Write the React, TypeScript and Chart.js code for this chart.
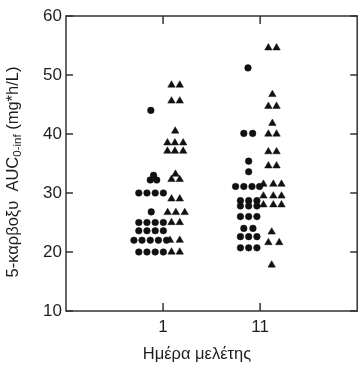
import React, { useEffect, useRef } from "react";
import { Chart, registerables } from "chart.js";

Chart.register(...registerables);

// Categories (study day) and their positions on the x axis
const DAY_LABELS = ["1", "11"];
const DAY_POS = [1, 2];
const Y_TICKS = [10, 20, 30, 40, 50, 60];

// Day 1 – circles (AUC values) and horizontal jitter offsets (axis units)
const day1CircleValues = [44, 33, 32.2, 32.2, 30, 30, 30, 30, 26.8, 25, 25, 25, 25, 23.6, 23.6, 23.6, 23.6, 22, 22, 22, 22, 22, 20, 20, 20, 20];
const day1CircleOffsets = [-0.126, -0.098, -0.132, -0.065, -0.25, -0.166, -0.081, 0.003, -0.122, -0.25, -0.166, -0.081, 0.003, -0.25, -0.166, -0.081, 0.003, -0.3, -0.217, -0.132, -0.048, 0.036, -0.25, -0.166, -0.081, 0.003];

// Day 1 – triangles
const day1TriValues = [48.3, 48.3, 45.6, 45.6, 40.5, 38.5, 38.5, 38.5, 37.1, 37.1, 37.1, 33.2, 32.3, 32.3, 29, 29, 26.7, 26.7, 26.7, 25, 25, 22, 22, 20, 20];
const day1TriOffsets = [0.087, 0.172, 0.087, 0.172, 0.125, 0.045, 0.122, 0.207, 0.045, 0.122, 0.207, 0.128, 0.087, 0.172, 0.087, 0.172, 0.047, 0.132, 0.223, 0.087, 0.172, 0.071, 0.172, 0.087, 0.172];

// Day 11 – circles
const day11CircleValues = [51.2, 40.1, 40.1, 35.4, 33.6, 31.1, 31.1, 31.1, 31.1, 28.7, 28.7, 28.7, 27.8, 27.8, 27.8, 26, 26, 26, 24, 24, 22.6, 22.6, 22.6, 20.7, 20.7, 20.7];
const day11CircleOffsets = [-0.125, -0.168, -0.077, -0.118, -0.118, -0.253, -0.168, -0.084, -0.006, -0.203, -0.118, -0.033, -0.203, -0.118, -0.033, -0.203, -0.118, -0.033, -0.168, -0.074, -0.203, -0.118, -0.033, -0.203, -0.118, -0.033];

// Day 11 – triangles
const day11TriValues = [54.6, 54.6, 46.7, 44.7, 44.7, 41.8, 40, 40, 37, 37, 34.6, 34.6, 31.5, 31.5, 31.5, 29.5, 29.5, 29.5, 28, 28, 28, 23.4, 21.6, 21.6, 17.8];
const day11TriOffsets = [0.085, 0.169, 0.126, 0.085, 0.169, 0.126, 0.085, 0.169, 0.085, 0.169, 0.085, 0.169, 0.034, 0.136, 0.22, 0.034, 0.136, 0.22, 0.034, 0.136, 0.22, 0.119, 0.085, 0.197, 0.119];

const Y_TITLE_MAIN = "5-καρβοξυ  AUC";
const Y_TITLE_SUB = "0-inf";
const Y_TITLE_TAIL = " (mg*h/L)";
const X_TITLE = "Ημέρα μελέτης";

const FONT = "'Liberation Sans', Arial, sans-serif";
const TEXT = "#1e1e1e";
const INK = "#111";

function pts(dayIndex: number, values: number[], offsets: number[]) {
  return values.map((v, i) => ({ x: DAY_POS[dayIndex] + offsets[i], y: v }));
}

const framePlugin = {
  id: "framePlugin",
  afterDraw(chart: any) {
    const { ctx, chartArea, scales } = chart;
    const { left, right, top, bottom } = chartArea;
    const x = scales.x;
    const y = scales.y;
    ctx.save();
    ctx.strokeStyle = "#333";
    ctx.lineWidth = 1.5;
    ctx.strokeRect(left, top, right - left, bottom - top);
    ctx.beginPath();
    Y_TICKS.forEach((v) => {
      const py = y.getPixelForValue(v);
      ctx.moveTo(left, py);
      ctx.lineTo(left + 7, py);
      ctx.moveTo(right, py);
      ctx.lineTo(right - 7, py);
    });
    DAY_POS.forEach((d) => {
      const px = x.getPixelForValue(d);
      ctx.moveTo(px, bottom);
      ctx.lineTo(px, bottom - 8);
      ctx.moveTo(px, top);
      ctx.lineTo(px, top + 8);
    });
    ctx.stroke();

    // x title
    ctx.fillStyle = TEXT;
    ctx.font = `16.5px ${FONT}`;
    ctx.textAlign = "center";
    ctx.textBaseline = "middle";
    ctx.fillText(X_TITLE, 197, 354);

    // y title with subscript
    const mainFont = `16.5px ${FONT}`;
    const subFont = `11.5px ${FONT}`;
    ctx.font = mainFont;
    const w1 = ctx.measureText(Y_TITLE_MAIN).width;
    const w3 = ctx.measureText(Y_TITLE_TAIL).width;
    ctx.font = subFont;
    const w2 = ctx.measureText(Y_TITLE_SUB).width;
    const total = w1 + w2 + w3;
    ctx.translate(13, 172);
    ctx.rotate(-Math.PI / 2);
    ctx.textAlign = "left";
    ctx.textBaseline = "middle";
    let cx = -total / 2;
    ctx.font = mainFont;
    ctx.fillText(Y_TITLE_MAIN, cx, 0);
    cx += w1;
    ctx.font = subFont;
    ctx.fillText(Y_TITLE_SUB, cx, 4.5);
    cx += w2;
    ctx.font = mainFont;
    ctx.fillText(Y_TITLE_TAIL, cx, 0);
    ctx.restore();
  },
};

export default function App() {
  const ref = useRef<HTMLCanvasElement | null>(null);
  useEffect(() => {
    if (!ref.current) return;
    const circle = { pointStyle: "circle", pointRadius: 3.3, backgroundColor: INK, borderColor: INK, borderWidth: 0.5 };
    const tri = { pointStyle: "triangle", pointRadius: 4.3, backgroundColor: INK, borderColor: INK, borderWidth: 0.5 };
    const chart = new Chart(ref.current, {
      type: "scatter",
      data: {
        datasets: [
          { label: "day1-circles", data: pts(0, day1CircleValues, day1CircleOffsets), ...circle },
          { label: "day1-triangles", data: pts(0, day1TriValues, day1TriOffsets), ...tri },
          { label: "day11-circles", data: pts(1, day11CircleValues, day11CircleOffsets), ...circle },
          { label: "day11-triangles", data: pts(1, day11TriValues, day11TriOffsets), ...tri },
        ] as any,
      },
      options: {
        responsive: false,
        maintainAspectRatio: false,
        animation: false,
        layout: { padding: { top: 16, right: 1, left: 0, bottom: 0 } },
        plugins: { legend: { display: false }, tooltip: { enabled: false } },
        scales: {
          x: {
            type: "linear",
            min: 0,
            max: 3,
            grid: { display: false, drawTicks: false },
            border: { display: false },
            afterBuildTicks: (s: any) => {
              s.ticks = DAY_POS.map((v) => ({ value: v }));
            },
            afterFit: (s: any) => {
              s.height = 54;
            },
            ticks: {
              padding: 6,
              color: TEXT,
              font: { size: 17, family: FONT },
              callback: (v: any) => DAY_LABELS[DAY_POS.indexOf(Number(v))] ?? "",
            },
          },
          y: {
            type: "linear",
            min: 10,
            max: 60,
            grid: { display: false, drawTicks: false },
            border: { display: false },
            afterBuildTicks: (s: any) => {
              s.ticks = Y_TICKS.map((v) => ({ value: v }));
            },
            afterFit: (s: any) => {
              s.width = 66;
            },
            ticks: {
              padding: 4,
              color: TEXT,
              font: { size: 17, family: FONT },
            },
          },
        },
      } as any,
      plugins: [framePlugin],
    });
    return () => chart.destroy();
  }, []);
  return (
    <div style={{ position: "absolute", left: 0, top: 0, width: 362, height: 365, background: "#fff" }}>
      <canvas ref={ref} width={362} height={365} style={{ display: "block" }} />
    </div>
  );
}
